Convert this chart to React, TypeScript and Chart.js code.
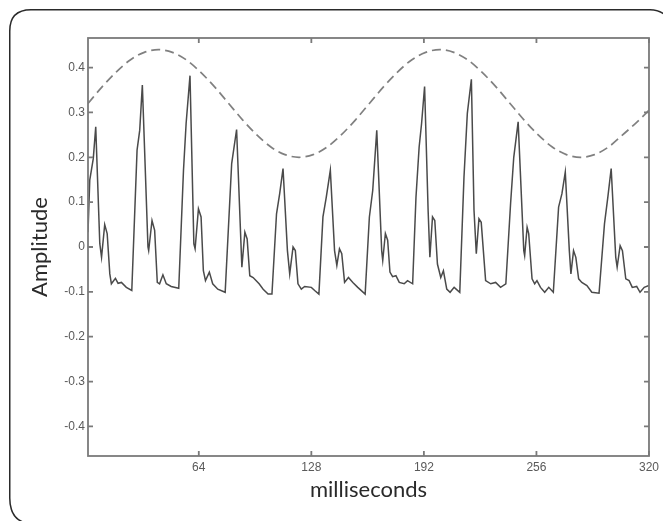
import React, { useEffect, useRef } from "react";
import { Chart, registerables } from "chart.js";

Chart.register(...registerables);

const SIGNAL_MS = [
  1, 2, 4, 5.4, 7.7, 8.7, 10.5, 11.9, 13.4, 14.3, 16.6, 18.1, 20, 22.8, 25.9,
  28.9, 30.4, 31.9, 35.1, 35.5, 37.4, 38.9, 40.4, 41.7, 43.6, 45.5, 48.3, 52.6,
  55.3, 56.8, 59, 61.2, 61.9, 63.8, 65.3, 66.6, 67.8, 70, 71.9, 74.8, 79,
  82.7, 85.5, 88.5, 90.2, 91.5, 93, 94.9, 98.3, 100.6, 103.4, 105.6,
  108.2, 110, 111.9, 114.4, 115.7, 117.6, 118.9, 120.4, 122.3, 124.2, 128, 129.9, 132.3,
  134.6, 136.5, 138.8, 141.2, 142.5, 144, 145.3, 146.9, 149.1, 151.6, 154.4, 158.6,
  161, 162.9, 165.2, 168, 168.6, 170.1, 171.4, 172.7, 174.2, 176.1, 178, 180.8, 182.7, 185.6,
  187.5, 189.3, 190.7, 192.4, 194.4, 195.4, 196.9, 198.2, 199.7, 201.6, 203.1, 205, 206.9, 209.2, 212.4,
  214.8, 216.7, 219, 220.5, 221.8, 223.3, 224.6, 227.1, 230, 232.8, 235.6, 238.6,
  241.3, 243.1, 245.6, 248.8, 249.3, 250.7, 251.6, 253.5, 255, 256.3, 258.3, 260.7, 263, 265.6,
  268.6, 270.5, 272.4, 274.7, 275.6, 277.1, 278.4, 280, 281.8, 284.7, 287.5, 291.6,
  294.7, 296.6, 298.5, 301.1, 301.9, 303.6, 304.9, 306.8, 308.7, 310.5, 313, 314.9, 317.3, 320,
];

const SIGNAL_AMP = [
  0.033, 0.149, 0.197, 0.268, 0.008, -0.023, 0.05, 0.03, -0.06, -0.082, -0.07, -0.081, -0.079, -0.09, -0.097,
  0.216, 0.26, 0.361, 0.0, -0.008, 0.059, 0.037, -0.079, -0.082, -0.062, -0.082, -0.088, -0.092,
  0.171, 0.276, 0.382, 0.007, -0.004, 0.085, 0.067, -0.053, -0.075, -0.056, -0.082, -0.094, -0.101,
  0.186, 0.262, -0.045, 0.033, 0.018, -0.064, -0.068, -0.082, -0.094, -0.105, -0.105,
  0.074, 0.119, 0.175, -0.008, -0.06, 0.0, -0.008, -0.082, -0.094, -0.088, -0.09, -0.097, -0.105,
  0.067, 0.111, 0.171, -0.008, -0.041, -0.004, -0.015, -0.079, -0.068, -0.079, -0.09, -0.105,
  0.067, 0.126, 0.26, -0.008, -0.03, 0.03, 0.015, -0.056, -0.066, -0.064, -0.079, -0.082, -0.075, -0.082,
  0.111, 0.223, 0.276, 0.358, 0.082, -0.023, 0.067, 0.059, -0.038, -0.068, -0.053, -0.094, -0.101, -0.09, -0.101,
  0.156, 0.298, 0.374, 0.082, -0.015, 0.063, 0.055, -0.075, -0.082, -0.079, -0.09, -0.082,
  0.097, 0.2, 0.279, -0.008, -0.019, 0.044, 0.03, -0.071, -0.082, -0.075, -0.09, -0.101, -0.09, -0.101,
  0.089, 0.119, 0.167, -0.008, -0.06, -0.008, -0.023, -0.071, -0.079, -0.086, -0.101, -0.103,
  0.052, 0.111, 0.175, -0.023, -0.045, 0.003, -0.008, -0.071, -0.075, -0.09, -0.088, -0.101, -0.09, -0.086,
];

const ENVELOPE_MS = [
  1, 9, 17, 25, 33, 41, 49, 57, 65, 73, 81, 89, 97, 105, 113, 121, 129, 137, 145, 153,
  161, 169, 177, 185, 193, 201, 209, 217, 225, 233, 241, 249, 257, 265, 273, 281, 289, 297, 305, 313, 320,
];

const ENVELOPE_AMP = [
  0.32, 0.357, 0.39, 0.417, 0.434, 0.44, 0.434, 0.417, 0.39, 0.357, 0.32, 0.283, 0.25, 0.223, 0.206, 0.2,
  0.206, 0.223, 0.25, 0.283, 0.32, 0.357, 0.39, 0.417, 0.434, 0.44, 0.434, 0.417, 0.39, 0.357, 0.32,
  0.283, 0.25, 0.223, 0.206, 0.2, 0.206, 0.223, 0.25, 0.278, 0.305,
];

const X_TICKS = [64, 128, 192, 256, 320];
const Y_TICKS = [-0.4, -0.3, -0.2, -0.1, 0, 0.1, 0.2, 0.3, 0.4];

const X_TITLE = "milliseconds";
const Y_TITLE = "Amplitude";

const framePlugin = {
  id: "frameTicks",
  afterDatasetsDraw(chart: any) {
    const { ctx, chartArea, scales } = chart;
    const { left, top, right, bottom } = chartArea;
    ctx.save();
    ctx.strokeStyle = "#7a7a7a";
    ctx.lineWidth = 1.8;
    ctx.strokeRect(left, top, right - left, bottom - top);
    ctx.beginPath();
    for (const v of Y_TICKS) {
      const py = scales.y.getPixelForValue(v);
      ctx.moveTo(left, py);
      ctx.lineTo(left + 5, py);
      ctx.moveTo(right, py);
      ctx.lineTo(right - 5, py);
    }
    for (const v of X_TICKS) {
      const px = scales.x.getPixelForValue(v);
      ctx.moveTo(px, bottom);
      ctx.lineTo(px, bottom - 5);
      ctx.moveTo(px, top);
      ctx.lineTo(px, top + 5);
    }
    ctx.stroke();
    ctx.restore();
  },
};

export default function App() {
  const canvasRef = useRef<HTMLCanvasElement | null>(null);

  useEffect(() => {
    const canvas = canvasRef.current;
    if (!canvas) return;
    const chart = new Chart(canvas, {
      type: "line",
      data: {
        datasets: [
          {
            label: "envelope",
            data: ENVELOPE_MS.map((x, i) => ({ x, y: ENVELOPE_AMP[i] })),
            borderColor: "#808080",
            borderWidth: 1.7,
            borderDash: [9, 5],
            pointRadius: 0,
            cubicInterpolationMode: "monotone",
            fill: false,
          },
          {
            label: "signal",
            data: SIGNAL_MS.map((x, i) => ({ x, y: SIGNAL_AMP[i] })),
            borderColor: "#4a4a4a",
            borderWidth: 1.5,
            pointRadius: 0,
            tension: 0,
            fill: false,
          },
        ],
      },
      options: {
        responsive: false,
        animation: false,
        layout: { padding: { left: 20, top: 38, right: 12, bottom: 8 } },
        plugins: {
          legend: { display: false },
          tooltip: { enabled: false },
        },
        scales: {
          x: {
            type: "linear",
            min: 1,
            max: 320,
            grid: { display: false, drawTicks: false },
            border: { display: false },
            afterBuildTicks: (scale: any) => {
              scale.ticks = X_TICKS.map((v) => ({ value: v }));
            },
            afterFit: (scale: any) => {
              scale.height = 57;
            },
            ticks: {
              padding: 4,
              color: "#5a5a5a",
              font: { family: "'Liberation Sans', Arial, sans-serif", size: 12 },
              callback: (v: any) => String(v),
              maxRotation: 0,
            },
            title: {
              display: true,
              text: X_TITLE,
              color: "#2a2a2a",
              font: { family: "Lato, 'Open Sans', sans-serif", size: 22 },
              padding: { top: 0, bottom: 10 },
            },
          },
          y: {
            type: "linear",
            min: -0.466,
            max: 0.466,
            grid: { display: false, drawTicks: false },
            border: { display: false },
            afterBuildTicks: (scale: any) => {
              scale.ticks = Y_TICKS.map((v) => ({ value: v }));
            },
            afterFit: (scale: any) => {
              scale.width = 68;
            },
            ticks: {
              padding: 3,
              color: "#5a5a5a",
              font: { family: "'Liberation Sans', Arial, sans-serif", size: 12 },
              callback: (v: any) => (Math.abs(Number(v)) < 1e-9 ? "0" : Number(v).toFixed(1)),
            },
            title: {
              display: true,
              text: Y_TITLE,
              color: "#2a2a2a",
              font: { family: "Lato, 'Open Sans', sans-serif", size: 22 },
              padding: { top: 7, bottom: 0 },
            },
          },
        },
      },
      plugins: [framePlugin],
    });
    return () => chart.destroy();
  }, []);

  return (
    <div
      style={{
        position: "fixed",
        left: 0,
        top: 0,
        width: 663,
        height: 521,
        overflow: "hidden",
        background: "#ffffff",
      }}
    >
      <svg
        width={663}
        height={521}
        style={{ position: "absolute", left: 0, top: 0 }}
      >
        <path
          d="M 26 523 Q 9.75 519 9.75 498 L 9.75 31 Q 9.75 9.75 31 9.75 L 650 9.75 Q 662 10 668 18"
          fill="none"
          stroke="#2a2a2a"
          strokeWidth={1.5}
        />
      </svg>
      <canvas
        ref={canvasRef}
        width={663}
        height={521}
        style={{ position: "absolute", left: 0, top: 0, width: 663, height: 521 }}
      />
    </div>
  );
}
